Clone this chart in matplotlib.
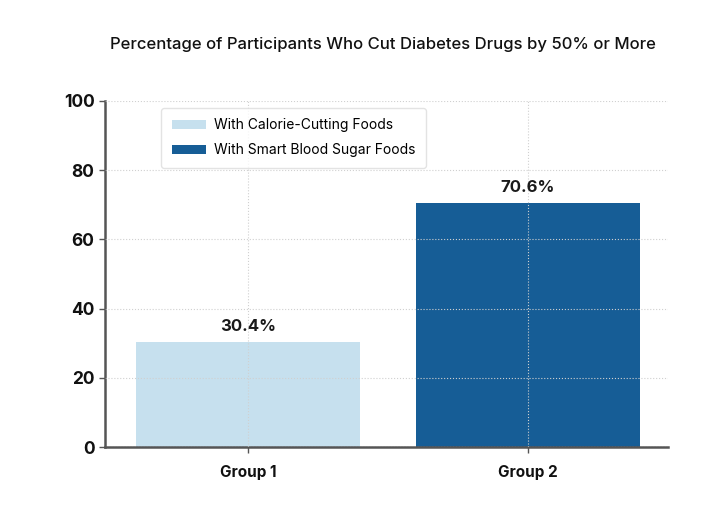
import matplotlib.pyplot as plt

plt.rcParams['font.family'] = ['Inter', 'DejaVu Sans']

groups = ['Group 1', 'Group 2']
series_names = ['With Calorie-Cutting Foods', 'With Smart Blood Sugar Foods']
values = [30.4, 70.6]
colors = ['#c6e0ee', '#165d96']

fig = plt.figure(figsize=(7.17, 5.07), dpi=100)
ax = fig.add_axes([0.1464, 0.1183, 0.7853, 0.6825])

bars = ax.bar(range(len(groups)), values, width=0.8, color=colors,
              label=series_names, zorder=1)
for b, v in zip(bars, values):
    ax.text(b.get_x() + b.get_width() / 2, v + 2.3, f'{v}%', ha='center',
            va='bottom', fontsize=12, fontweight='bold', color='#1a1a1a')

ax.set_xlim(-0.51, 1.5)
ax.set_ylim(0, 100)
ax.set_yticks([0, 20, 40, 60, 80, 100])
ax.set_xticks(range(len(groups)))
ax.set_xticklabels(groups)
ax.grid(True, linestyle=':', color='#d0d0d0', linewidth=0.8, zorder=2)
ax.set_axisbelow(False)

for s in ['top', 'right']:
    ax.spines[s].set_visible(False)
for s in ['left', 'bottom']:
    ax.spines[s].set_color('#555555')
    ax.spines[s].set_linewidth(1.8)

ax.tick_params(axis='y', labelsize=12.5, colors='#555555', labelcolor='#111111', length=4, width=1)
ax.tick_params(axis='x', labelsize=11, colors='#555555', labelcolor='#111111', length=4, width=1, pad=9)
for lbl in ax.get_yticklabels() + ax.get_xticklabels():
    lbl.set_fontweight('bold')

ax.legend(loc='upper left', bbox_to_anchor=(0.088, 1.0), fontsize=10,
          frameon=True, edgecolor='#dddddd', handlelength=2.45,
          handletextpad=0.6, borderpad=0.75, labelspacing=0.8)

fig.text(0.534, 0.913, 'Percentage of Participants Who Cut Diabetes Drugs by 50% or More',
         ha='center', va='center', fontsize=12, fontweight='medium', color='#111111')

fig.savefig('out.png', dpi=100)
